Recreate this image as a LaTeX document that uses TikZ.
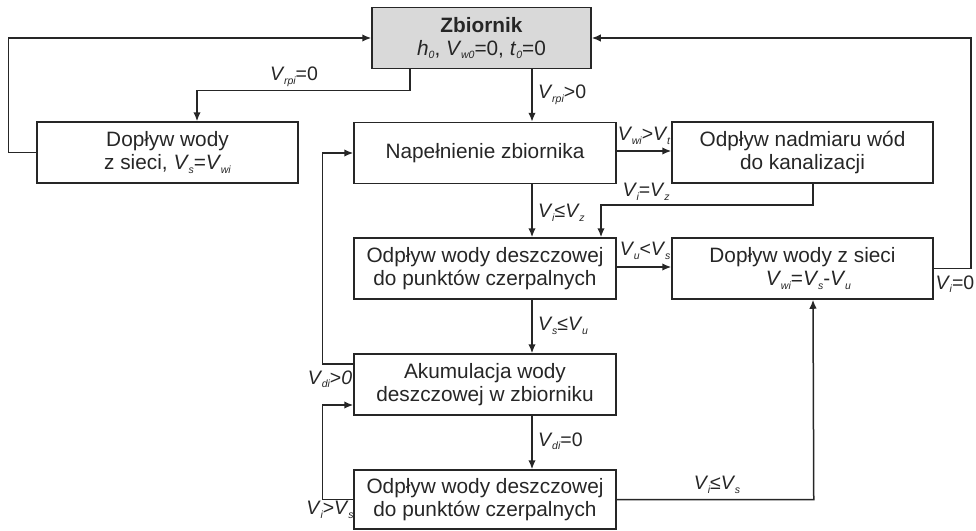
\documentclass[tikz,border=0pt]{standalone}
\usepackage{fontspec}
\setmainfont{Liberation Sans}
\usetikzlibrary{arrows.meta,calc}
\newcommand{\Vv}[1]{\textit{V}\kern-0.5pt\raisebox{-3.5pt}{\fontsize{10.5}{10.5}\selectfont\itshape #1}}
\newcommand{\subsc}[1]{\raisebox{-3.5pt}{\fontsize{10.5}{10.5}\selectfont\itshape #1}}
\begin{document}
\begin{tikzpicture}[x=1pt,y=-1pt,
  box/.style={draw=black!85, line width=1.5pt, minimum width=262pt, minimum height=61pt,
    align=center, inner sep=0pt, font=\fontsize{20.8}{23}\selectfont, text=black!85},
  arr/.style={draw=black!85, line width=1.5pt, -{Latex[length=9pt,width=7.5pt]}},
  lab/.style={inner sep=0pt, font=\fontsize{19.5}{21}\selectfont, text=black!85}]
\useasboundingbox (0,0) rectangle (976,530);
% boxes
\node[box, fill=black!15, minimum width=219pt] (zb) at (481.5,38)
  {\textbf{Zbiornik}\\\textit{h}\subsc{0}, \Vv{w0}=0, \textit{t}\subsc{0}=0};
\node[box, minimum width=261pt] (dws) at (167.5,152.5) {Dopływ wody\\z sieci, \Vv{s}=\Vv{wi}};
\node[box] (nap) at (485,153) {Napełnienie zbiornika};
\node[box, minimum width=261pt] (nad) at (802.5,152.5) {Odpływ nadmiaru wód\\do kanalizacji};
\node[box] (odp1) at (485,268.5) {Odpływ wody deszczowej\\do punktów czerpalnych};
\node[box, minimum width=261pt] (dop2) at (802.5,268.5) {Dopływ wody z sieci\\\hspace*{12pt}\Vv{wi}=\Vv{s}-\Vv{u}};
\node[box] (aku) at (485,384.5) {Akumulacja wody\\deszczowej w zbiorniku};
\node[box, minimum height=59pt] (odp2) at (485,499.5) {Odpływ wody deszczowej\\do punktów czerpalnych};
% connectors
\draw[arr] (dws.west) -- ++(-28,0) |- (zb.west);
\draw[arr] ([xshift=-71.5pt]zb.south) -- ++(0,21) -| ([xshift=29.5pt]dws.north);
\node[lab] (l1) at (294,77) {\Vv{rpi}=0};
\draw[arr] ([xshift=50.5pt]zb.south) -- ([xshift=47pt]nap.north);
\node[lab, anchor=west] (l2) at (538,95) {\Vv{rpi}>0};
\draw[arr] ([yshift=2pt]nap.east) -- ([yshift=2pt]nap.east -| nad.west);
\node[lab] (l3) at (644,136) {\Vv{wi}>\Vv{t}};
\draw[arr] ([xshift=10.5pt]nad.south) -- ++(0,21) -| ([xshift=116pt]odp1.north);
\node[lab] (l4) at (646,192) {\Vv{i}=\Vv{z}};
\draw[arr] ([xshift=47pt]nap.south) -- ([xshift=47pt]odp1.north);
\node[lab, anchor=west] (l5) at (538,213) {\Vv{i}≤\Vv{z}};
\draw[arr] ([yshift=1.5pt]odp1.east) -- ([yshift=1.5pt]odp1.east -| dop2.west);
\node[lab] (l6) at (645,251) {\Vv{u}<\Vv{s}};
\draw[arr] (dop2.east) -- ++(37,0) |- (zb.east);
\node[lab] (l7) at (955,284) {\Vv{i}=0};
\draw[arr] ([xshift=47pt]odp1.south) -- ([xshift=47pt]aku.north);
\node[lab, anchor=west] (l8) at (538,326) {\Vv{s}≤\Vv{u}};
\draw[arr] ([yshift=20.5pt]aku.west) -- ++(-31,0) |- (nap.west);
\node[lab] (l9) at (330,379) {\Vv{di}>\textit{0}};
\draw[arr] (odp2.west) -- ++(-31,0) |- ([yshift=-20.5pt]aku.west);
\node[lab] (l10) at (330,510) {\Vv{i}>\Vv{s}};
\draw[arr] ([xshift=47pt]aku.south) -- ([xshift=47pt]odp2.north);
\node[lab, anchor=west] (l11) at (538,441) {\Vv{di}=0};
\draw[arr] (odp2.east) -- ++(197,0) -- ([xshift=10.5pt]dop2.south);
\node[lab] (l12) at (717,485) {\Vv{i}≤\Vv{s}};
\end{tikzpicture}
\end{document}
